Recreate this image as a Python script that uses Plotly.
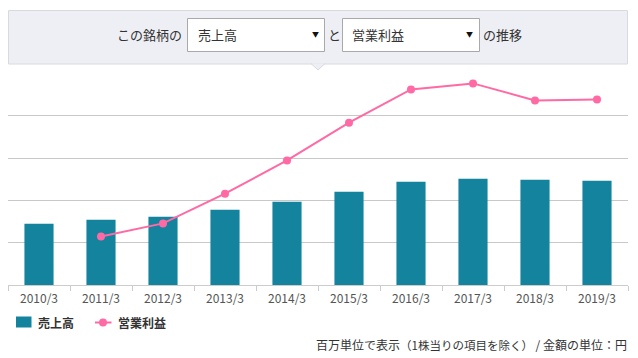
import plotly.graph_objects as go

categories = ["2010/3", "2011/3", "2012/3", "2013/3", "2014/3",
              "2015/3", "2016/3", "2017/3", "2018/3", "2019/3"]
sales = [1448, 1543, 1614, 1779, 1968, 2204, 2440, 2511, 2488, 2464]
operating_profit = [None, 1148, 1455, 2157, 2944, 3834, 4620, 4763, 4361, 4385]
grid_ticks = [1000, 2000, 3000, 4000]
series_names = ["売上高", "営業利益"]
series_colors = ["#14839e", "#ff69a4"]

W, H = 638, 358
# plot area in page pixels: x 8..628, y 74..285
ML, MR, MT, MB = 8, 10, 74, 73
PW, PH = W - ML - MR, H - MT - MB
FONT = "Noto Sans CJK JP, Noto Sans, sans-serif"


def px(x):
    return (x - ML) / PW


def py(y):
    return (H - MB - y) / PH


fig = go.Figure()
fig.add_trace(go.Bar(
    x=categories, y=sales, name=series_names[0],
    marker=dict(color=series_colors[0], line=dict(width=0)),
))
fig.add_trace(go.Scatter(
    x=categories, y=operating_profit, name=series_names[1], mode="lines+markers",
    line=dict(color=series_colors[1], width=2),
    marker=dict(color=series_colors[1], size=8),
))

shapes = []
# header box with pointer
shapes.append(dict(type="rect", xref="paper", yref="paper",
                   x0=px(8.5), x1=px(627.5), y0=py(64), y1=py(10.5),
                   fillcolor="#eeeff4", line=dict(color="#d9dadf", width=1),
                   layer="above"))
shapes.append(dict(type="path", xref="paper", yref="paper",
                   path=f"M {px(311)},{py(63.5)} L {px(318)},{py(70)} L {px(325)},{py(63.5)}",
                   fillcolor="#eeeff4", line=dict(color="#d9dadf", width=1),
                   layer="above"))
for x0, x1 in [(187.5, 324.5), (342.5, 479.5)]:
    shapes.append(dict(type="rect", xref="paper", yref="paper",
                       x0=px(x0), x1=px(x1), y0=py(51.5), y1=py(18.5),
                       fillcolor="#ffffff", line=dict(color="#a9a9a9", width=1),
                       layer="above"))
# legend keys
shapes.append(dict(type="rect", xref="paper", yref="paper",
                   x0=px(16), x1=px(31.5), y0=py(327.5), y1=py(316.5),
                   fillcolor=series_colors[0], line=dict(width=0)))
shapes.append(dict(type="line", xref="paper", yref="paper",
                   x0=px(95), x1=px(111.5), y0=py(322.5), y1=py(322.5),
                   line=dict(color=series_colors[1], width=2)))
shapes.append(dict(type="circle", xref="paper", yref="paper",
                   x0=px(99), x1=px(107), y0=py(326.5), y1=py(318.5),
                   fillcolor=series_colors[1], line=dict(width=0)))

annotations = []


def txt(text, x, y, size=13, anchor="left", color="#333333", weight="normal"):
    annotations.append(dict(text=text, x=px(x), y=py(y), xref="paper", yref="paper",
                            xanchor=anchor, yanchor="middle", showarrow=False,
                            font=dict(family=FONT, size=size, color=color, weight=weight)))


txt("この銘柄の", 183.5, 35, anchor="right")
txt("売上高", 195.5, 35)
txt("▼", 315, 34, size=7, anchor="center", color="#111111")
txt("と", 325.5, 35)
txt("営業利益", 350.5, 35)
txt("▼", 469, 34, size=7, anchor="center", color="#111111")
txt("の推移", 480.5, 35)
txt(series_names[0], 35.5, 322.5, size=12, weight="bold")
txt(series_names[1], 115.5, 322.5, size=12, weight="bold")
txt("百万単位で表示<span style='font-size:11.5px'>（1株当りの項目を除く）</span> / 金額の単位：円",
    629, 344, size=12, anchor="right")

fig.update_layout(
    width=W, height=H,
    margin=dict(l=ML, r=MR, t=MT, b=MB, pad=0),
    paper_bgcolor="#ffffff", plot_bgcolor="#ffffff",
    font=dict(family=FONT, color="#333333"),
    bargap=0.53,
    showlegend=False,
    shapes=shapes,
    annotations=annotations,
    xaxis=dict(type="category", range=[-0.5, 9.5], showgrid=False,
               showline=True, linecolor="#cccccc", linewidth=1,
               ticks="outside", tickson="boundaries", ticklen=5, tickcolor="#cccccc",
               ticklabelstandoff=3,
               tickfont=dict(family=FONT, size=12, color="#555555"),
               fixedrange=True),
    yaxis=dict(range=[0, 4985], tickvals=grid_ticks, showticklabels=False,
               showgrid=True, gridcolor="#c8c8c8", gridwidth=1,
               zeroline=False, showline=False, fixedrange=True),
)

fig.write_html("out.html",
               config={"displayModeBar": False},
               post_script="document.body.style.margin='0';document.body.style.overflow='hidden';")
